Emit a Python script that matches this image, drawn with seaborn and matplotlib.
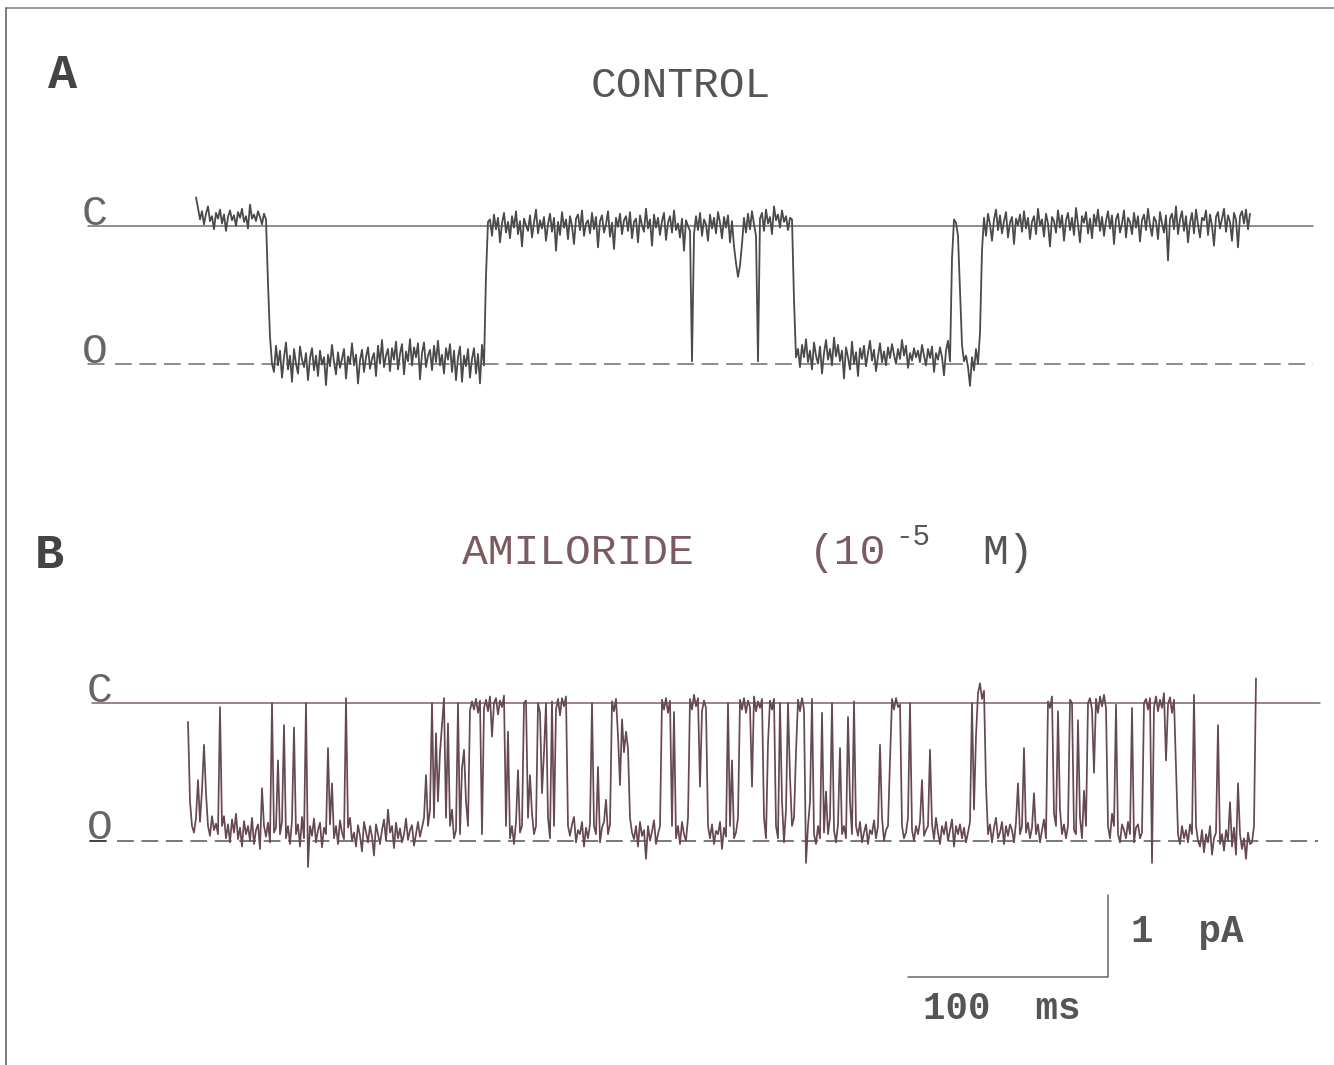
import numpy as np
import pandas as pd
import seaborn as sns
import matplotlib.pyplot as plt
from matplotlib.lines import Line2D

# single-channel records, one sample per ms, current in units of 0.01 pA
# measured from the closed (C) level; negative = inward (open, O)
control_start_ms = 4
control_current = [
    35, 22, 8, 18, 2, 15, 24, 6, 12, -4,
    16, 9, 20, 3, 14, -6, 11, 19, 7, 13,
    0, 17, 10, 21, 5, 12, -3, 26, 9, 14,
    6, 18, 11, 2, 15, 8,
    -70, -135, -168,
    -178, -146, -170, -152, -185, -160, -142, -175, -158, -190,
    -150, -168, -180, -147, -163, -172, -155, -188, -161, -149,
    -176, -158, -183, -152, -169, -160, -194, -157, -171, -145,
    -166, -181, -154, -173, -162, -150, -186, -159, -168, -143,
    -170, -157, -192, -164, -151, -178, -160, -148, -174, -162,
    -155, -183, -146, -168, -139, -172, -158, -150, -177, -149,
    -163, -141, -175, -156, -144, -181, -153, -165, -138, -170,
    -148, -160, -143, -187, -155, -142, -172, -158, -151, -176,
    -146, -166, -140, -170, -157, -180, -149, -163, -144, -178,
    -152, -188, -160, -147, -190, -158, -171, -150, -185, -162,
    -149, -180, -156, -192, -145, -170,
    -60, 5,
    8, -12, 14, -4, 10, -20, 3, 16, -8, 5,
    -15, 12, -2, 18, -10, 6, -25, 9, 1, -6,
    13, -14, 4, 20, -9, 7, -3, 11, -18, 2,
    15, -7, 10, -30, 5, -11, 17, -2, 8, -16,
    12, 0, -22, 9, 14, -5, 19, -12, 3, 7,
    -9, 16, -4, 11, -26, 6, 13, -8, 2, 18,
    -13, 4, -28, 10, -1, 15, -10, 7, 12, -6,
    17, -15, 5, 9, -20, 13, 1, -7, 21, -3,
    8, -24, 14, -2, 10, -11, 6, 16, -17, 4,
    12, -8, 19, -5, 3, -14, 9, -30, 7, 0,
    -6, -165, -10,
    12, -5, 16, -12, 8, 2, -18, 14, -3, 10,
    -9, 17, 4, -15, 11, -2, 13, -20, 6,
    -25, -45, -62, -48, -22,
    10, -8, 15, -4, 18, 2, -12,
    -165,
    9, 16, -6, 20, 3, 11, -10, 24, 7, 14, -2, 19, 5, 12, -5, 10, 8,
    -90, -160,
    -150, -172, -145, -160, -138, -166, -152, -175, -142, -158,
    -168, -147, -180, -155, -139, -163, -150, -170, -136, -159,
    -145, -165, -152, -186, -148, -160, -175, -141, -168, -154,
    -183, -149, -162, -146, -171, -155, -140, -164, -151, -177,
    -159, -143, -166, -153, -170, -148, -161, -144, -157, -168,
    -150, -162, -139, -158, -146, -173, -155, -164, -149, -160,
    -152, -166, -145, -158, -170, -150, -161, -147, -178, -155,
    -163, -148, -160, -182, -152, -140, -165,
    -40, 8, 4, -12,
    -80, -145,
    -165, -158, -172, -195, -160, -176, -150, -168,
    -130, -30,
    10, -12, 15, 2, -18, 8, 20, -5, 13, -9,
    6, 17, -14, 4, 11, -22, 9, 1, 14, -7,
    18, -3, 10, -16, 5, 12, -10, 21, 0, 8,
    -13, 15, 3, -25, 11, 6, -8, 19, -2, 13,
    -18, 7, 16, -5, 10, -11, 22, 2, -20, 12,
    4, 17, -9, 9, -15, 14, 1, 20, -6, 11,
    -12, 6, 18, -3, 13, -22, 8, 15, -8, 3,
    19, -14, 10, 5, -10, 16, -2, 12, -19, 7,
    14, -5, 21, 1, -12, 11, 6, -16, 17, 3,
    -8, 13, -42, 9, 15, -4, 24, -10, 8, 18,
    -6, 12, -20, 4, 16, -9, 20, 2, -14, 10,
    7, 19, -11, 14, 0, -24, 11, 17, -3, 9,
    21, -7, 13, 5, -18, 16, 8, -26, 12, 18,
    3, 20, -4, 15,
]

amiloride_start_ms = 0
amiloride_current = [
    -23, -120, -150, -158, -140, -94, -145, -106, -51, -110,
    -150, -162, -138, -155, -147, -160, -5, -150, -138, -165,
    -148, -170, -142, -158, -135, -166, -152, -175, -144, -160,
    -150, -168, -140, -172, -155, -148, -178, -104, -150, -163,
    -146, -170, 0, -158, -152, -70, -160, -145, -27, -165,
    -150, -172, -143, -30, -160, -148, -175, -139, -165, 0,
    -200, -150, -162, -141, -170, -155, -146, -176, -152, -160,
    -55, -148, -98, -165, -150, -172, -143, -158, -166, 6,
    -152, -140, -168, -158, -175, -149, -162, -181, -145, -157,
    -170, -150, -163, -186, -148, -160, -172, -155, -142, -168,
    -130, -158, -150, -177, -146, -165, -153, -170, -160, -141,
    -167, -155, -149, -174, -160, -145, -163, -152, -140, -88,
    -150, -130, 0, -140, -37, -120, -60, -27, 6, -140,
    -25, -150, -130, -165, -155, 0, -160, -80, -57, -120,
    -150, -9, 2, -8, 5, -12, 3, -160, -6, 4,
    -10, 8, -41, 0, 6, -14, 3, -5, 9, -150,
    -35, -165, -150, -172, -145, -82, -158, -150, 0, 3,
    -140, -88, -135, -160, -150, 0, -12, -110, -60, 0,
    -140, -165, 2, -150, -8, 5, -15, 6, -4, 8,
    -150, -162, -148, -139, -170, -155, -160, -145, -175, -152,
    -165, -148, 0, -150, -160, -78, -170, -152, -145, -118,
    -160, -148, 2, -10, 5, -40, -100, -20, -60, -35,
    -55, -140, -158, -166, -150, -175, -145, -162, -155, -190,
    -150, -168, -157, -143, -172, -160, -150, 4, -8, 6,
    -12, 3, -150, -11, -165, -150, -172, -145, -160, -168,
    -140, 5, -8, 10, -4, 6, -102, -10, 3, -6,
    -150, -165, -148, -172, -156, -160, -145, -178, -152, -163,
    0, -150, -70, -165, -158, -140, 4, -8, 6, -12,
    3, -5, -102, 8, -10, 2, -6, 5, -140, -165,
    -49, 3, -8, 5, -150, -165, 0, -120, -170, -130,
    0, -90, -150, -140, -60, 4, -10, 6, -8, -195,
    -150, -120, 5, -160, -172, -150, -165, -12, -158, -108,
    -160, -140, 0, -155, -170, -148, -55, -160, -150, -165,
    -17, -120, -160, 2, -150, -162, -145, -170, -158, -148,
    -172, -155, -160, -143, -165, -150, -51, -140, -168, -155,
    -150, -70, 5, -8, 6, -5, -2, -150, -165, -158,
    -140, 0, -155, -168, -150, -160, -145, -94, -162, -155,
    -150, -57, -148, -166, -140, -158, -172, -150, -160, -145,
    -168, -155, -142, -175, -150, -160, -148, -165, -152, -170,
    -158, -145, 0, -130, -40, 12, 24, 5, 15, -100,
    -160, -148, -170, -152, -140, -165, -158, -145, -172, -150,
    -162, -148, -155, -170, -145, -98, -160, -150, -55, -158,
    -146, -165, -152, -110, -160, -148, -170, -155, -142, -165,
    2, -6, 8, -135, -150, -10, -130, -160, -148, -165,
    -150, 4, 0, -155, -160, -21, -140, -165, -107, -150,
    0, 6, -8, -85, 5, -12, 8, -4, 10, -6,
    -150, -165, -135, -150, -2, -160, -170, -148, -155, -165,
    -145, -160, -6, -170, -152, -148, -165, -158, 0, 5,
    -8, 6, -195, -5, 8, -10, 4, -6, 12, -70,
    -2, 7, -12, 4, -80, -160, -172, -150, -165, -155,
    -170, -148, -160, 10, -150, -168, -175, -155, -182, -160,
    -170, -150, -185, -165, -158, -27, -172, -160, -180, -155,
    -168, -121, -175, -152, -185, -98, -160, -178, -165, -190,
    -158, -172, -170, -150, 30,
]

unitary_pA = 1.68          # closed-to-open distance
scale_ms = 100
scale_pA = 1
panel_labels = ["A", "B"]
control_title = "CONTROL"
drug_name = "AMILORIDE"
drug_conc = ["(10", "-5", "M)"]

# page geometry (pixels)
W, H = 1334, 1065
PX_PER_MS = 2.0
PX_PER_PA = 82.0
T_ZERO_PX = 188
Y_C_A, Y_C_B = 226, 703
SPLIT = 480

def fx(px):
    return px / W

def fy(py):
    return 1 - py / H

def t_of(px):
    return (px - T_ZERO_PX) / PX_PER_MS

sns.set_style("white")
plt.rcParams["font.family"] = ["Liberation Mono", "DejaVu Sans Mono"]

fig = plt.figure(figsize=(W / 100, H / 100), dpi=100)
ax_a = fig.add_axes([0, 1 - SPLIT / H, 1, SPLIT / H])
ax_b = fig.add_axes([0, 0, 1, (H - SPLIT) / H])

df_a = pd.DataFrame({
    "time_ms": control_start_ms + np.arange(len(control_current)),
    "current_pA": np.array(control_current) / 100.0,
})
df_b = pd.DataFrame({
    "time_ms": amiloride_start_ms + np.arange(len(amiloride_current)),
    "current_pA": np.array(amiloride_current) / 100.0,
})

grey = "#4a4a4a"
brown = "#664850"

sns.lineplot(data=df_a, x="time_ms", y="current_pA", ax=ax_a, color=grey,
             linewidth=1.3, estimator=None, sort=False)
sns.lineplot(data=df_b, x="time_ms", y="current_pA", ax=ax_b, color=brown,
             linewidth=1.25, estimator=None, sort=False)

xlim = (t_of(0), t_of(W))
ax_a.set_xlim(*xlim)
ax_b.set_xlim(*xlim)
ax_a.set_ylim(-(SPLIT - Y_C_A) / PX_PER_PA, Y_C_A / PX_PER_PA)
ax_b.set_ylim(-(H - Y_C_B) / PX_PER_PA, (Y_C_B - SPLIT) / PX_PER_PA)

# closed / open reference levels
ax_a.plot([t_of(88), t_of(1313)], [0, 0], color="#6e6e6e", lw=1.1, zorder=1)
ax_a.plot([t_of(88), t_of(104)], [-unitary_pA] * 2, color="#6e6e6e", lw=1.1)
ax_a.plot([t_of(115), t_of(1313)], [-unitary_pA] * 2, color="#6e6e6e",
          lw=1.1, dashes=(11, 5), zorder=1)
ax_b.plot([t_of(92), t_of(1320)], [0, 0], color="#7d6268", lw=1.1, zorder=1)
ax_b.plot([t_of(90), t_of(106)], [-unitary_pA] * 2, color="#333333", lw=1.3)
ax_b.plot([t_of(117), t_of(1318)], [-unitary_pA] * 2, color="#555555",
          lw=1.1, dashes=(11, 5), zorder=1)

# scale bar
bar_t = t_of(1108)
bar_low = -(977 - Y_C_B) / PX_PER_PA
ax_b.plot([bar_t - scale_ms, bar_t, bar_t],
          [bar_low, bar_low, bar_low + scale_pA], color="#666666", lw=1.1)

for ax in (ax_a, ax_b):
    ax.set_axis_off()

# text
fig.text(fx(48), fy(76), panel_labels[0], fontsize=35, fontweight="bold",
         color="#444444", va="center")
fig.text(fx(35), fy(556), panel_labels[1], fontsize=35, fontweight="bold",
         color="#444444", va="center")
fig.text(fx(591), fy(86), control_title, fontsize=31, color="#555555", va="center")
fig.text(fx(462), fy(553), drug_name, fontsize=31, color="#7b5a60", va="center")
fig.text(fx(809), fy(553), drug_conc[0], fontsize=31, color="#7b5a60", va="center")
fig.text(fx(895), fy(537), drug_conc[1], fontsize=21, color="#555555", va="center")
fig.text(fx(982), fy(553), drug_conc[2], fontsize=31, color="#555555", va="center")

for x0, yc, yo in [(82, 225, 363), (87, 702, 839)]:
    fig.text(fx(x0), fy(yc), "C", fontsize=31, color="#666666", va="baseline")
    fig.text(fx(x0), fy(yo), "O", fontsize=31, color="#666666", va="baseline")

fig.text(fx(1131), fy(932), f"{scale_pA}  pA", fontsize=27, fontweight="bold",
         color="#555555", va="center")
fig.text(fx(923), fy(1009), f"{scale_ms}  ms", fontsize=27, fontweight="bold",
         color="#555555", va="center")

# page frame
fig.add_artist(Line2D([fx(6), fx(W)], [fy(8), fy(8)], color="#888888", lw=1.2))
fig.add_artist(Line2D([fx(6), fx(6)], [fy(8), fy(H)], color="#666666", lw=1.2))

fig.savefig("out.png", dpi=100)
